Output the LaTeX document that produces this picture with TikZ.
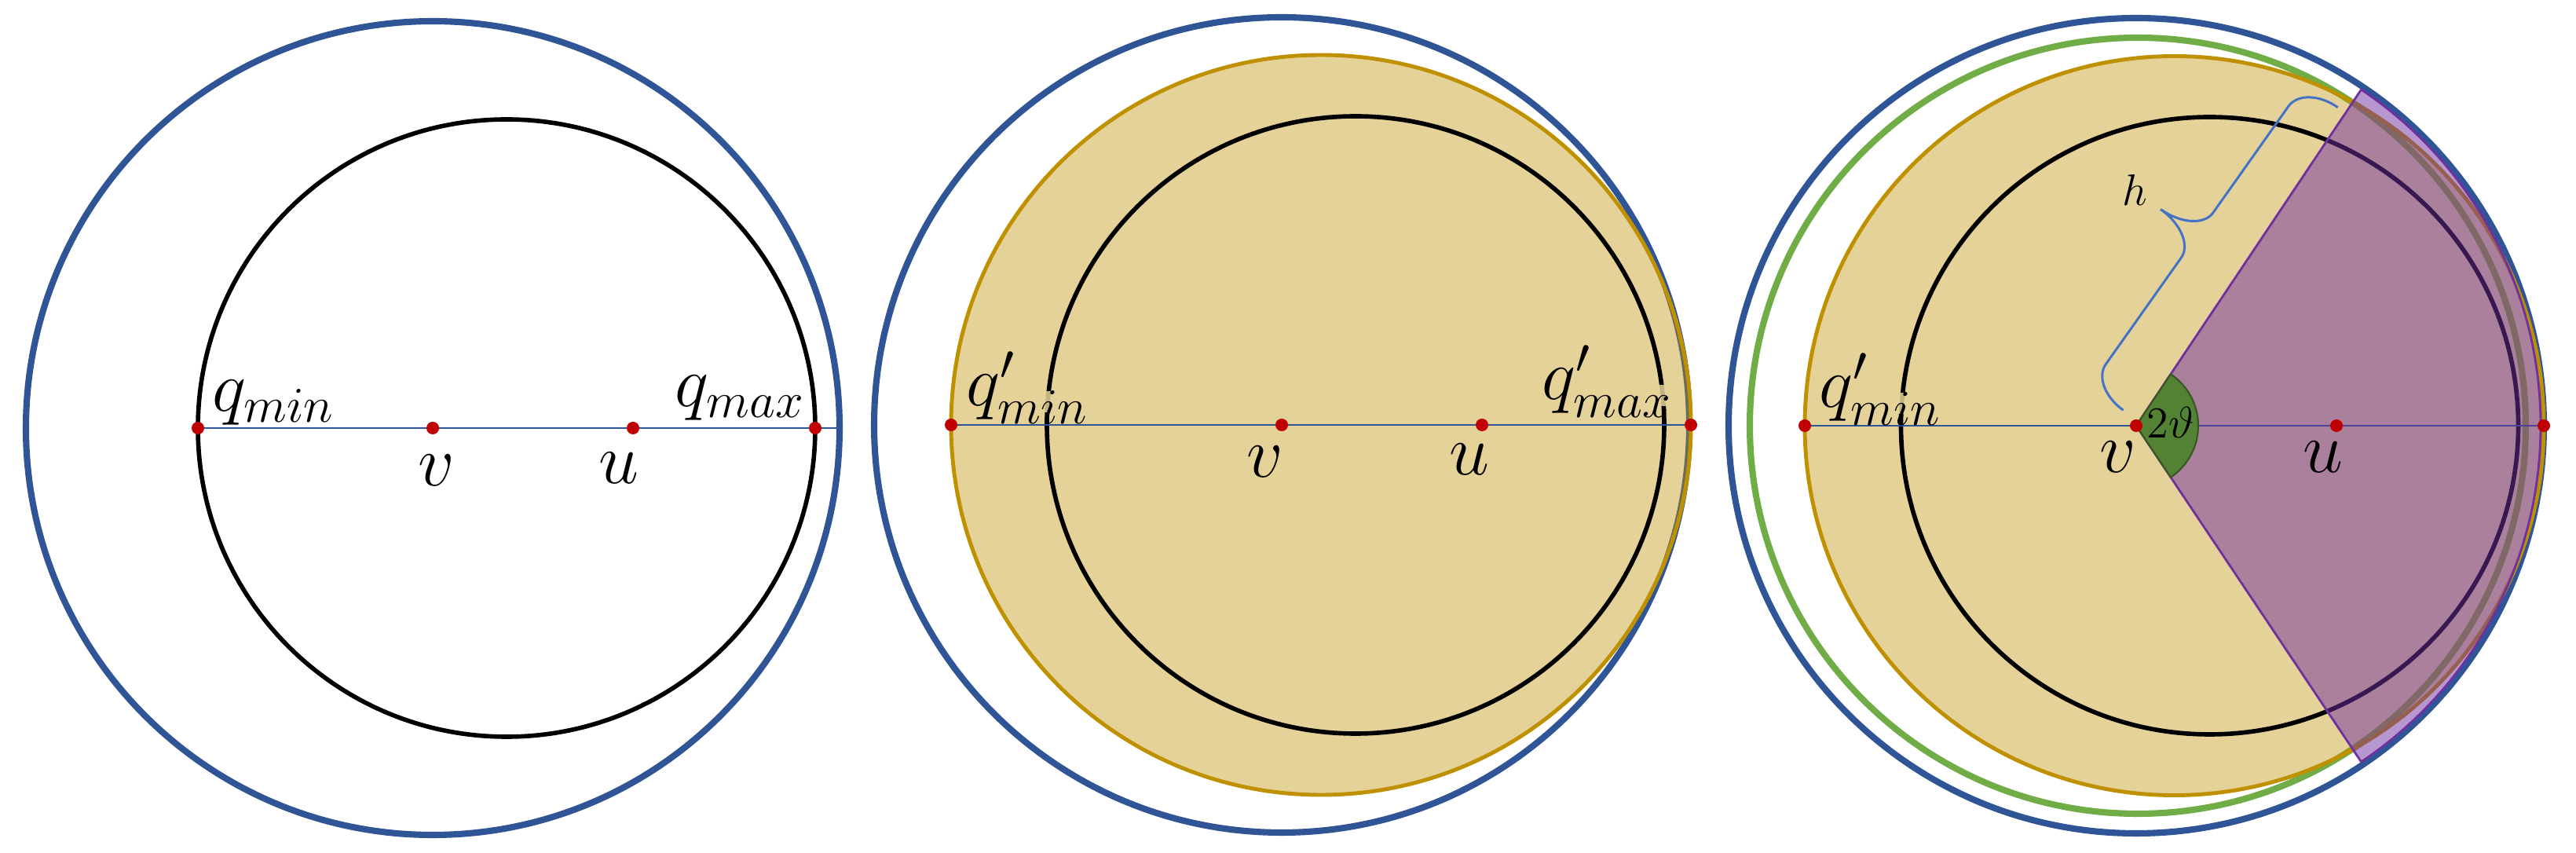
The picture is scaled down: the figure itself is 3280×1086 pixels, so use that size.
\RequirePackage{fix-cm}
\documentclass[tikz,border=0pt]{standalone}
\definecolor{cblue}{HTML}{2F5597}
\definecolor{cline}{HTML}{2F5597}
\definecolor{clight}{HTML}{4472C4}
\definecolor{cred}{HTML}{C00000}
\definecolor{cgold}{HTML}{BF9000}
\definecolor{cgreen}{HTML}{70AD47}
\definecolor{cdgreen}{HTML}{548235}
\definecolor{cdgreenl}{HTML}{385723}
\definecolor{cpurple}{HTML}{7030A0}
\colorlet{goldfill}{cgold!40!white}
\tikzset{
 outer/.style={draw=cblue, line width=2.3pt},
 inner/.style={draw=black, line width=1.6pt},
 goldc/.style={draw=cgold, line width=1.4pt, fill=cgold, fill opacity=0.4},
 greenc/.style={draw=cgreen, line width=2.3pt},
 axis/.style={draw=cline, line width=0.8pt},
 dot/.style={fill=cred},
 lab/.style={inner sep=0pt, font=\fontsize{26}{30}\selectfont},
 labbg/.style={lab, fill=goldfill, fill opacity=0.85, text opacity=1, text height=0.52em, text depth=0.25em},
 smalllab/.style={inner sep=0pt, font=\fontsize{16}{19}\selectfont},
 wedge/.style={draw=cpurple, line width=0.8pt, fill=cpurple, fill opacity=0.5},
 anglemark/.style={draw=cdgreenl, line width=0.6pt, fill=cdgreen},
 bracestyle/.style={draw=clight, line width=0.85pt},
}
\begin{document}
\begin{tikzpicture}[x=0.01cm,y=-0.01cm]
\path[use as bounding box, fill=white] (0,0) rectangle (3280,1086);

% ---------- Panel 1 ----------
\coordinate (v1) at (551,545);
\coordinate (u1) at (806,545);
\coordinate (qmin1) at (252,545);
\coordinate (qmax1) at (1038,545);
\coordinate (end1) at (1069,545);
\coordinate (c1) at (645,545);
\draw[outer] (v1) circle[radius=518];
\draw[inner] (c1) circle[radius=393];
\draw[axis] (qmin1) -- (end1);
\foreach \p in {qmin1,v1,u1,qmax1} \fill[dot] (\p) circle[radius=8];
\node[lab, anchor=south west] (lqmin1) at (270,542) {$q_{min}$};
\node[lab, anchor=south west] (lqmax1) at (859,536) {$q_{max}$};
\node[lab, anchor=base] (lv1) at (556,619) {$v$};
\node[lab, anchor=base] (lu1) at (788,616) {$u$};

% ---------- Panel 2 ----------
\coordinate (v2) at (1632,541);
\coordinate (u2) at (1887,541);
\coordinate (qmin2) at (1211,541);
\coordinate (qmax2) at (2153,541);
\coordinate (g2) at (1682,541);
\coordinate (c2) at (1726,541);
\draw[outer] (v2) circle[radius=519];
\draw[goldc] (g2) circle[radius=471];
\draw[inner] (c2) circle[radius=393];
\draw[axis] (qmin2) -- (qmax2);
\foreach \p in {qmin2,v2,u2,qmax2} \fill[dot] (\p) circle[radius=8];
\node[labbg, anchor=south west] (lqmin2) at (1230,526) {$q'_{min}$};
\node[labbg, anchor=south west] (lqmax2) at (1963,518) {$q'_{max}$};
\node[lab, anchor=base] (lv2) at (1611,608) {$v$};
\node[lab, anchor=base] (lu2) at (1871,605) {$u$};

% ---------- Panel 3 ----------
\coordinate (v3) at (2720,542);
\coordinate (u3) at (2975,542);
\coordinate (qmin3) at (2298,542);
\coordinate (r3) at (3239,542);
\coordinate (gr3) at (2722,542);
\coordinate (g3) at (2768.5,542);
\coordinate (c3) at (2813.5,542);
\draw[outer] (v3) circle[radius=519];
\draw[greenc] (gr3) circle[radius=494];
\draw[goldc] (g3) circle[radius=470.5];
\draw[inner] (c3) circle[radius=393];
\draw[axis] (qmin3) -- (r3);
\filldraw[wedge] (v3) -- ++(-56.2:515) arc[start angle=-56.2, end angle=56.2, radius=515] -- cycle;
\filldraw[anglemark] (v3) -- ++(-56.2:79) arc[start angle=-56.2, end angle=56.2, radius=79] -- cycle;
\begin{scope}[shift={(27.02cm,-5.22cm)}, x={(0.005784cm,0.008157cm)}, y={(-0.008157cm,0.005784cm)}]
\draw[bracestyle] (0,0) .. controls (0,28.7) and (15.7,52) .. (35,52) -- (201,52)
  .. controls (220.3,52) and (236,77.5) .. (236,109)
  .. controls (236,77.5) and (251.7,52) .. (271,52) -- (437,52)
  .. controls (456.3,52) and (472,28.7) .. (472,0);
\end{scope}
\foreach \p in {qmin3,v3,u3,r3} \fill[dot] (\p) circle[radius=8];
\node[smalllab] (lh) at (2718,242) {$h$};
\node[smalllab, anchor=base west] (lang) at (2733,558) {$2\vartheta$};
\node[labbg, anchor=south west] (lqmin3) at (2316,528) {$q'_{min}$};
\node[lab, anchor=base] (lv3) at (2697,602) {$v$};
\node[lab, anchor=base] (lu3) at (2958,602) {$u$};
\end{tikzpicture}
\end{document}
